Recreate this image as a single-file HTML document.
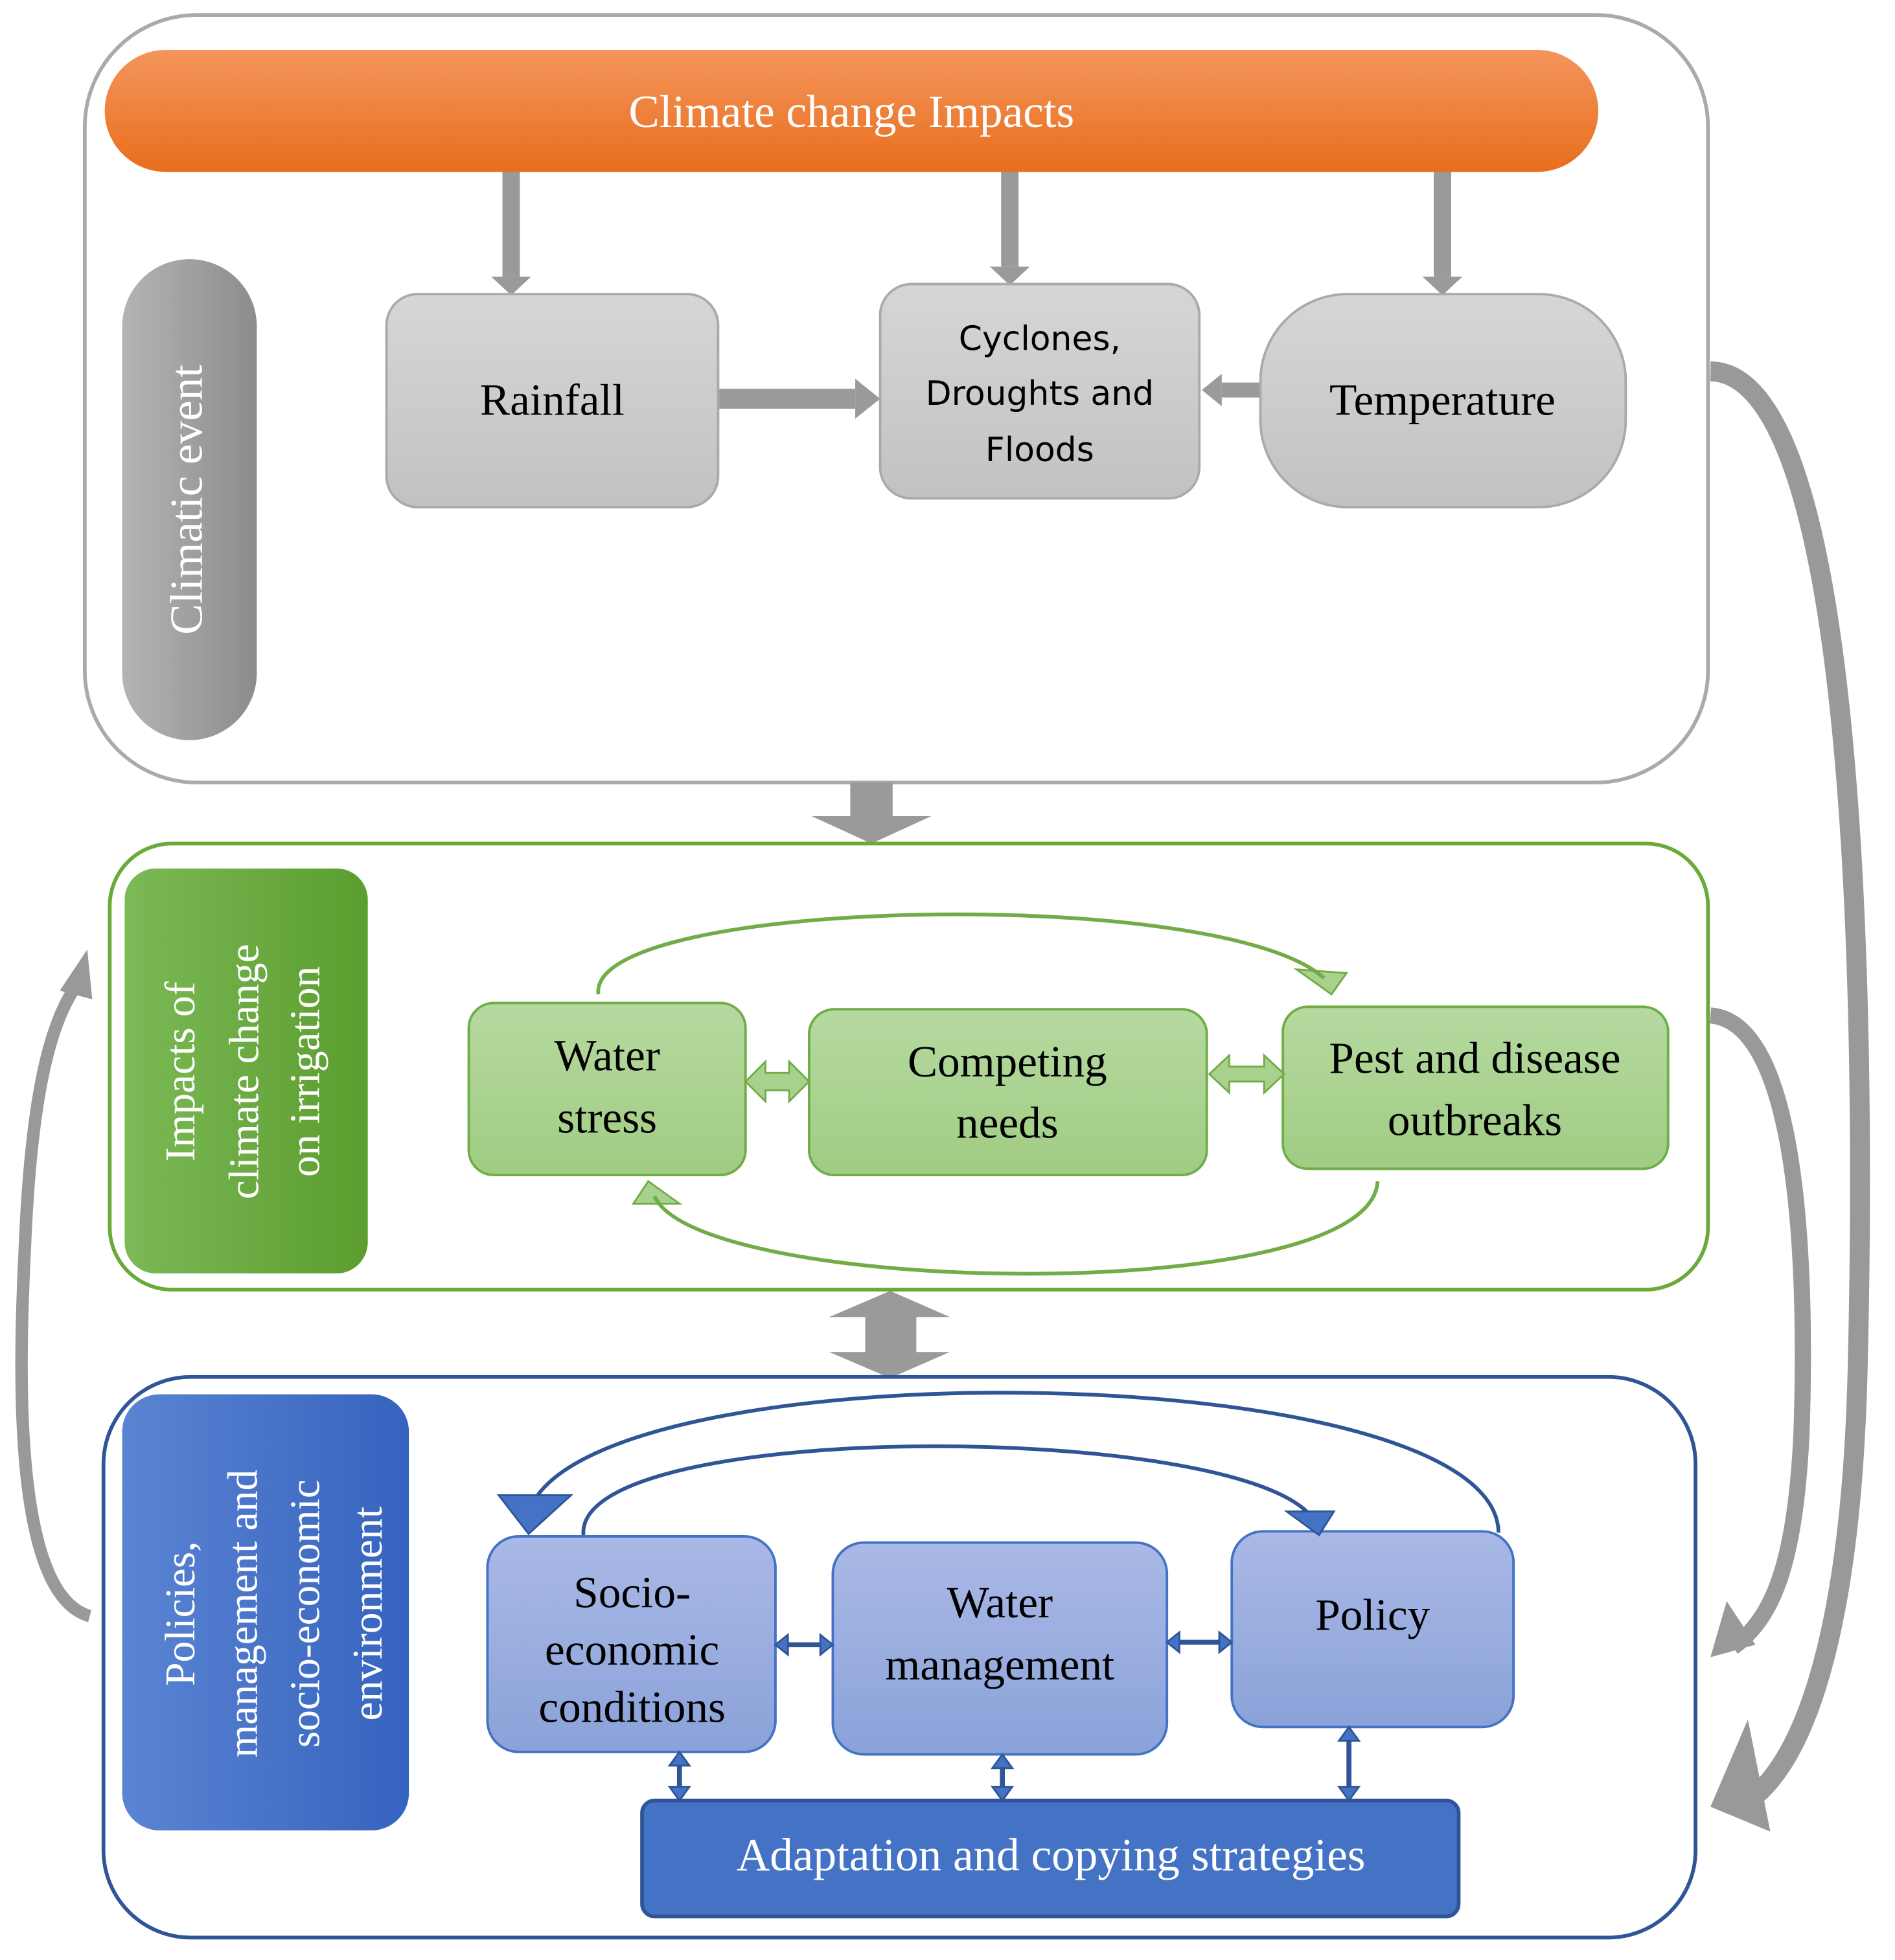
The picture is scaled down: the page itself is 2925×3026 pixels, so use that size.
<!DOCTYPE html>
<html><head><meta charset="utf-8"><style>html,body{margin:0;padding:0;background:#fff}svg{display:block}
.s{font-family:"Liberation Serif",serif}.a{font-family:"DejaVu Sans","Liberation Sans",sans-serif}</style></head>
<body>
<svg width="2925" height="3026" viewBox="0 0 1520 1573" preserveAspectRatio="none" xmlns="http://www.w3.org/2000/svg">
<defs>
<linearGradient id="or" x1="0" y1="0" x2="0" y2="1"><stop offset="0" stop-color="#f4955c"/><stop offset="1" stop-color="#e86e1c"/></linearGradient>
<linearGradient id="gp" x1="0" y1="0" x2="1" y2="0"><stop offset="0" stop-color="#b4b4b4"/><stop offset="1" stop-color="#8c8c8c"/></linearGradient>
<linearGradient id="gr" x1="0" y1="0" x2="0" y2="1"><stop offset="0" stop-color="#d6d6d6"/><stop offset="1" stop-color="#c2c2c2"/></linearGradient>
<linearGradient id="gl" x1="0" y1="0" x2="1" y2="0"><stop offset="0" stop-color="#7cb957"/><stop offset="1" stop-color="#5b9d2e"/></linearGradient>
<linearGradient id="gb" x1="0" y1="0" x2="0" y2="1"><stop offset="0" stop-color="#b6d9a0"/><stop offset="1" stop-color="#a0cc83"/></linearGradient>
<linearGradient id="bl" x1="0" y1="0" x2="1" y2="0"><stop offset="0" stop-color="#5b84d2"/><stop offset="1" stop-color="#3563bf"/></linearGradient>
<linearGradient id="bb" x1="0" y1="0" x2="0" y2="1"><stop offset="0" stop-color="#aab9e6"/><stop offset="1" stop-color="#8aa2d9"/></linearGradient>
</defs>
<rect x="68" y="12" width="1302" height="616" rx="90" fill="#fff" stroke="#aaa" stroke-width="3"/>
<rect x="84" y="40" width="1198" height="98" rx="49" fill="url(#or)"/>
<text x="683" y="102" class="s" font-size="37" fill="#fff" text-anchor="middle">Climate change Impacts</text>
<rect x="98" y="208" width="108" height="386" rx="54" fill="url(#gp)"/>
<text transform="translate(162,401) rotate(-90)" class="s" font-size="37" fill="#fff" text-anchor="middle">Climatic event</text>
<g fill="#9a9a9a">
<rect x="403" y="138" width="14" height="84"/><polygon points="394,222 426,222 410,237"/>
<rect x="803" y="138" width="14" height="76"/><polygon points="794,214 826,214 810,229"/>
<rect x="1150" y="138" width="14" height="84"/><polygon points="1141,222 1173,222 1157,237"/>
<rect x="576" y="312" width="110" height="16"/><polygon points="686,304 706,320 686,336"/>
<rect x="980" y="307" width="31" height="12"/><polygon points="980,300 964,313 980,326"/>
<rect x="682" y="628" width="34" height="28"/><polygon points="651,655 747,655 699,677"/>
<polygon points="714,1036 665,1057 694,1057 694,1085 665,1085 714,1106 762,1085 735,1085 735,1057 762,1057"/>
</g>
<rect x="310" y="236" width="266" height="171" rx="25" fill="url(#gr)" stroke="#aaa" stroke-width="2"/>
<text x="443" y="333" class="s" font-size="36" text-anchor="middle">Rainfall</text>
<rect x="706" y="228" width="256" height="172" rx="25" fill="url(#gr)" stroke="#aaa" stroke-width="2"/>
<g class="a" font-size="27" text-anchor="middle"><text x="834" y="281">Cyclones,</text><text x="834" y="325">Droughts and</text><text x="834" y="370">Floods</text></g>
<rect x="1011" y="236" width="293" height="171" rx="70" fill="url(#gr)" stroke="#aaa" stroke-width="2"/>
<text x="1157" y="333" class="s" font-size="36" text-anchor="middle">Temperature</text>

<rect x="88" y="677" width="1282" height="358" rx="50" fill="#fff" stroke="#6aaa3a" stroke-width="3"/>
<rect x="100" y="697" width="195" height="325" rx="25" fill="url(#gl)"/>
<g class="s" font-size="34" fill="#fff" text-anchor="middle">
<text transform="translate(156,860) rotate(-90)">Impacts of</text>
<text transform="translate(207,860) rotate(-90)">climate change</text>
<text transform="translate(256,860) rotate(-90)">on irrigation</text></g>
<rect x="376" y="805" width="222" height="138" rx="20" fill="url(#gb)" stroke="#70ad47" stroke-width="2"/>
<rect x="649" y="810" width="319" height="133" rx="20" fill="url(#gb)" stroke="#70ad47" stroke-width="2"/>
<rect x="1029" y="808" width="309" height="130" rx="20" fill="url(#gb)" stroke="#70ad47" stroke-width="2"/>
<g class="s" font-size="36" text-anchor="middle">
<text x="487" y="859">Water</text><text x="487" y="909">stress</text>
<text x="808" y="864">Competing</text><text x="808" y="913">needs</text>
<text x="1183" y="861">Pest and disease</text><text x="1183" y="911">outbreaks</text></g>
<g fill="#a9d18e" stroke="#70ad47" stroke-width="1.5">
<polygon points="598,868 614,852 614,861 633,861 633,852 649,868 633,884 633,875 614,875 614,884"/>
<polygon points="970,862 986,847 986,856 1014,856 1014,847 1030,862 1014,877 1014,868 986,868 986,877"/>
<polygon points="1040,778 1080,781 1068,798"/>
<polygon points="508,966 520,948 545,966"/>
</g>
<g fill="none" stroke="#70ad47" stroke-width="3">
<path d="M480,798 C470,720 980,710 1062,785"/>
<path d="M1105,948 C1100,1050 560,1040 525,960"/>
</g>

<rect x="83" y="1105" width="1277" height="450" rx="70" fill="#fff" stroke="#2f5597" stroke-width="3"/>
<rect x="98" y="1119" width="230" height="350" rx="30" fill="url(#bl)"/>
<g class="s" font-size="34" fill="#fff" text-anchor="middle">
<text transform="translate(156,1295) rotate(-90)">Policies,</text>
<text transform="translate(206,1295) rotate(-90)">management and</text>
<text transform="translate(256,1295) rotate(-90)">socio-economic</text>
<text transform="translate(306,1295) rotate(-90)">environment</text></g>
<rect x="391" y="1233" width="231" height="173" rx="25" fill="url(#bb)" stroke="#4472c4" stroke-width="2"/>
<rect x="668" y="1238" width="268" height="170" rx="25" fill="url(#bb)" stroke="#4472c4" stroke-width="2"/>
<rect x="988" y="1229" width="226" height="157" rx="25" fill="url(#bb)" stroke="#4472c4" stroke-width="2"/>
<g class="s" font-size="36" text-anchor="middle">
<text x="507" y="1290">Socio-</text><text x="507" y="1336">economic</text><text x="507" y="1382">conditions</text>
<text x="802" y="1298">Water</text><text x="802" y="1348">management</text>
<text x="1101" y="1308">Policy</text></g>
<rect x="515" y="1445" width="655" height="93" rx="10" fill="#4472c4" stroke="#2f5597" stroke-width="3"/>
<text x="843" y="1501" class="s" font-size="37" fill="#fff" text-anchor="middle">Adaptation and copying strategies</text>
<g fill="none" stroke="#2f5597" stroke-width="3">
<path d="M1202,1230 C1200,1090 500,1080 428,1205"/>
<path d="M468,1232 C460,1140 980,1140 1050,1215"/>
<path d="M627,1320 H663 M941,1318 H983 M545,1411 V1440 M804,1413 V1440 M1082,1391 V1440" stroke-width="4"/>
</g>
<g fill="#4472c4" stroke="#2f5597" stroke-width="1.5">
<polygon points="400,1200 458,1200 424,1231"/>
<polygon points="1032,1213 1070,1213 1058,1232"/>
<polygon points="622,1320 632,1312 632,1328"/><polygon points="668,1320 658,1312 658,1328"/>
<polygon points="936,1318 946,1310 946,1326"/><polygon points="988,1318 978,1310 978,1326"/>
<polygon points="545,1406 537,1417 553,1417"/><polygon points="545,1445 537,1434 553,1434"/>
<polygon points="804,1408 796,1419 812,1419"/><polygon points="804,1445 796,1434 812,1434"/>
<polygon points="1082,1386 1074,1397 1090,1397"/><polygon points="1082,1445 1074,1434 1090,1434"/>
</g>

<g fill="none" stroke="#999" stroke-linecap="butt">
<path d="M1372,298 C1500,300 1495,900 1490,1100 C1485,1300 1450,1420 1395,1450" stroke-width="16"/>
<path d="M1372,815 C1440,820 1450,1000 1445,1150 C1440,1260 1420,1300 1390,1322" stroke-width="13"/>
<path d="M72,1297 C10,1280 15,1100 20,1000 C25,880 40,820 62,790" stroke-width="10"/>
</g>
<g fill="#999">
<polygon points="1372,1450 1402,1380 1420,1470"/>
<polygon points="1372,1330 1385,1285 1408,1320"/>
<polygon points="70,762 48,795 74,802"/>
</g>
</svg>
</body></html>
